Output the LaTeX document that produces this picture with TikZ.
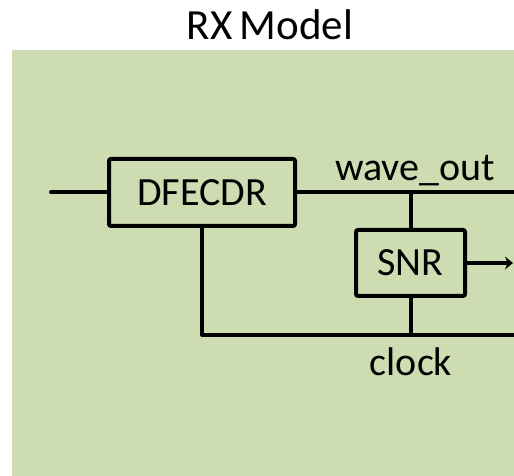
\documentclass[tikz,border=0pt]{standalone}
\usepackage{fontspec}
\setmainfont{Carlito}
\usetikzlibrary{arrows.meta}
\definecolor{rxgreen}{RGB}{206,221,177}

\begin{document}
\begin{tikzpicture}[x=1pt,y=1pt,font=\fontsize{40}{47}\selectfont,
    block/.style={draw,line width=4pt,rounded corners=2pt,inner sep=0pt},
    wire/.style={line width=4pt}]
    \useasboundingbox (0,0) rectangle (514,476);
    \fill[rxgreen] (12,0) rectangle (514,426);
    \node (title) at (270,451) {\fontsize{43}{50}\selectfont RX\,Model};

    \node[block,minimum width=186pt,minimum height=67pt] (dfe) at (202,283.5) {DFECDR};
    \node[block,minimum width=109pt,minimum height=66pt] (snr) at (410.5,213) {SNR};
    \coordinate (in) at (51,283.5);
    \coordinate (wtap) at (410.5,284);
    \coordinate (wend) at (514,284);
    \coordinate (ccorner) at (202,141);
    \coordinate (ctap) at (410.5,141);
    \coordinate (cend) at (514,141);
    \coordinate (snrout) at (513,213);

    \draw[wire,line cap=round] (in)--(dfe.west);
    \draw[wire] (dfe.east|-wend)--(wend) (wtap)--(snr.north);
    \draw[wire,line join=round] (dfe.south)--(ccorner)--(cend) (snr.south)--(ctap);
    \draw[wire,-{Stealth[length=8pt,width=13pt]}] (snr.east)--(snrout);

    \node (wlabel) at (415,305) {wave\_out};
    \node (clabel) at (411,114) {clock};
  \end{tikzpicture}
\end{document}
